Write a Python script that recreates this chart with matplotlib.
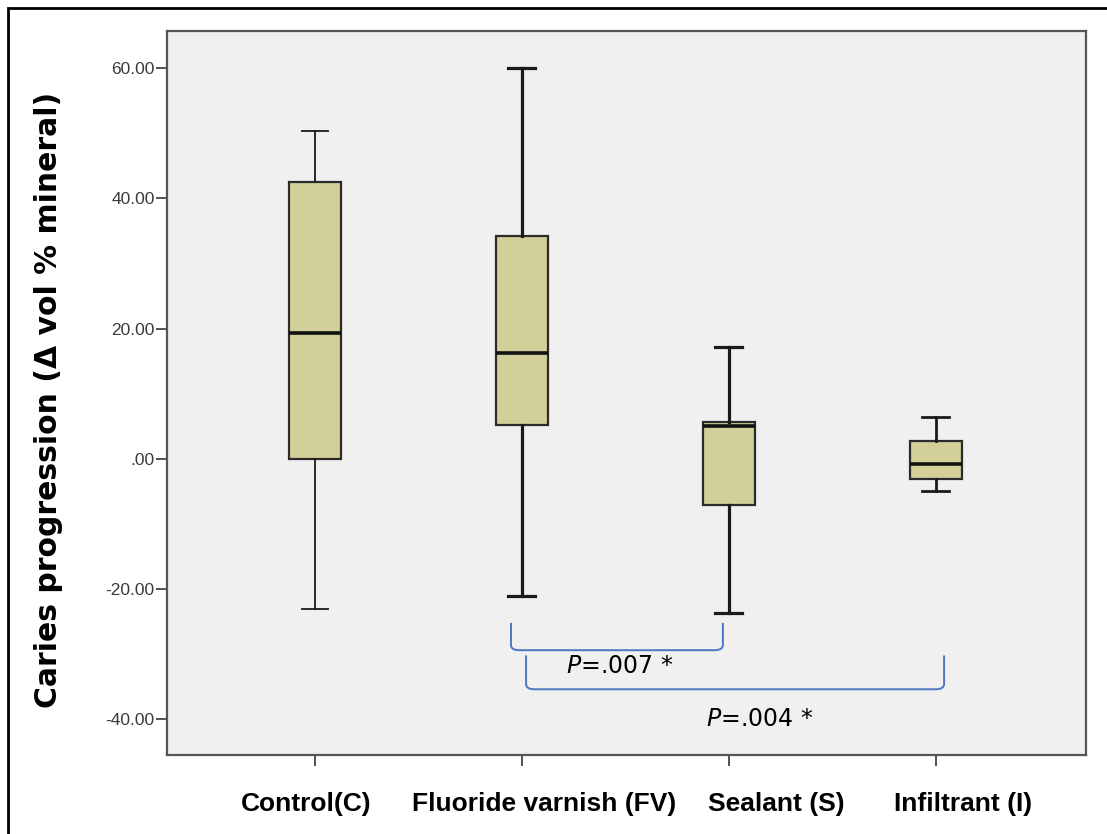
import matplotlib
matplotlib.use("Agg")
import matplotlib.pyplot as plt
from matplotlib.patches import Rectangle, PathPatch
from matplotlib.path import Path
from matplotlib.transforms import blended_transform_factory

# Group summaries (Δ vol % mineral)
groups = ["Control(C)", "Fluoride varnish (FV)", "Sealant (S)", "Infiltrant (I)"]
whislo = [-23.1, -21.1, -23.7, -4.9]
q1 = [0.0, 5.2, -7.1, -3.1]
med = [19.4, 16.3, 5.1, -0.8]
q3 = [42.5, 34.3, 5.7, 2.8]
whishi = [50.3, 60.0, 17.1, 6.5]

yticks = [-40, -20, 0, 20, 40, 60]
ytick_labels = ["-40.00", "-20.00", ".00", "20.00", "40.00", "60.00"]

# pairwise comparisons: (group a, group b, p text)
pairs = [(2, 3, "=.007 *"), (2, 4, "=.004 *")]

BOX_FILL = "#d3cf98"
BRACKET = "#4a76c2"

fig = plt.figure(figsize=(11.07, 8.34), dpi=100)
ax = fig.add_axes([0.1509, 0.0947, 0.830, 0.868])
ax.set_facecolor("#f0f0f0")

stats = [dict(label=g, whislo=lo, q1=a, med=m, q3=b, whishi=hi, fliers=[])
         for g, lo, a, m, b, hi in zip(groups, whislo, q1, med, q3, whishi)]
bp = ax.bxp(stats, positions=range(1, 5), widths=0.25, patch_artist=True,
            showfliers=False,
            boxprops=dict(facecolor=BOX_FILL, edgecolor="#2b2b2b", linewidth=1.6),
            medianprops=dict(color="#111111", linewidth=2.6),
            whiskerprops=dict(color="#1a1a1a", linewidth=1.8),
            capprops=dict(color="#1a1a1a", linewidth=1.8),
            capwidths=0.13)
# whisker weight differs a little from box to box in the original export
for i, lw in enumerate([1.3, 2.3, 2.3, 2.0]):
    for art in bp["whiskers"][2 * i:2 * i + 2] + bp["caps"][2 * i:2 * i + 2]:
        art.set_linewidth(lw)

ax.set_xlim(0.285, 4.725)
ax.set_ylim(-45.5, 65.7)
ax.set_yticks(yticks)
ax.set_yticklabels(ytick_labels, family="Liberation Sans", fontsize=12.5, color="#3a3a3a")
ax.set_xticks(range(1, 5))
ax.set_xticklabels([])
ax.tick_params(axis="x", length=8, width=1.3, color="#444444")
ax.tick_params(axis="y", length=8, width=1.3, color="#444444", pad=1)
for s in ax.spines.values():
    s.set_color("#555555")
    s.set_linewidth(1.6)

# category names sit under the ticks, nudged sideways as in the paper figure
label_shift = [-0.045, 0.105, 0.23, 0.13]
trans = blended_transform_factory(ax.transData, ax.transAxes)
for i, (g, dx) in enumerate(zip(groups, label_shift)):
    ax.text(i + 1 + dx, -0.068, g, transform=trans, ha="center", va="center",
            family="Liberation Sans", fontweight="bold", fontsize=19)

ax.set_ylabel("Caries progression (Δ vol % mineral)", fontsize=21.5,
              fontweight="bold", family="DejaVu Sans")
ax.yaxis.set_label_coords(-0.113, 0.49)


def bracket(x0, x1, ytop, ybot, r=0.4):
    # open-topped bracket with slightly rounded bottom corners
    verts = [(x0, ytop), (x0, ybot + r * 2), (x0, ybot), (x0 + 0.04, ybot),
             (x1 - 0.04, ybot), (x1, ybot), (x1, ybot + r * 2), (x1, ytop)]
    codes = [Path.MOVETO, Path.LINETO, Path.CURVE3, Path.CURVE3,
             Path.LINETO, Path.CURVE3, Path.CURVE3, Path.LINETO]
    ax.add_patch(PathPatch(Path(verts, codes), fill=False,
                           edgecolor=BRACKET, linewidth=1.4))


bracket(1.947, 2.971, -25.2, -29.4)
bracket(2.02, 4.04, -30.2, -35.4)

for (xc, yc), (_, _, rest) in zip([(2.47, -31.9), (3.15, -39.9)], pairs):
    ax.text(xc, yc, r"$\it{P}$" + rest, ha="center", va="center",
            fontsize=17, family="DejaVu Sans")

# outer frame round the whole figure (runs off the right and bottom edges)
fig.patches.append(Rectangle((8 / 1107, -0.05), 1.1, 1 - 8 / 834 + 0.05,
                             transform=fig.transFigure, fill=False,
                             edgecolor="black", linewidth=2))

fig.savefig("out.png", dpi=100)
